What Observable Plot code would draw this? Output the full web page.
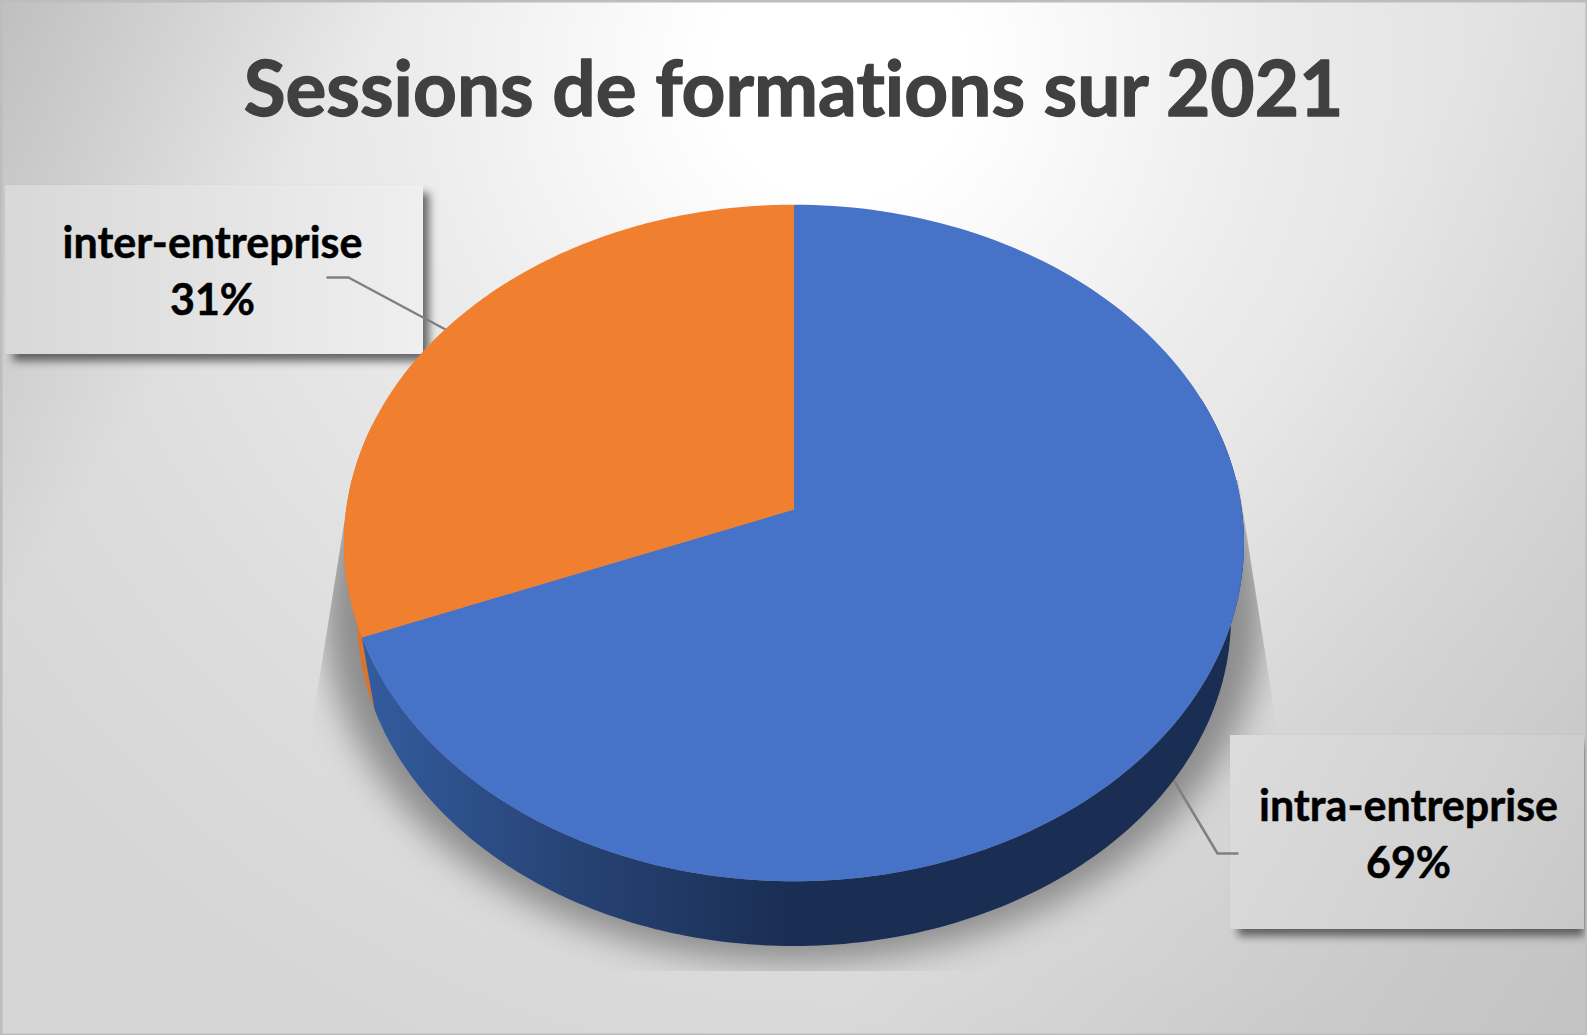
<!DOCTYPE html>
<html lang="fr">
<head>
<meta charset="utf-8">
<script src="https://cdn.jsdelivr.net/npm/d3@7"></script>
<script src="https://cdn.jsdelivr.net/npm/@observablehq/plot@0.6"></script>
<style>html,body{margin:0;padding:0;background:#ddd}svg{display:block}svg text{font-variant-ligatures:none;font-feature-settings:"liga" 0,"clig" 0}</style>
</head>
<body>
<div id="chart"></div>
<script>
// data
const titleText = "Sessions de formations sur 2021";
const categories = ["intra-entreprise", "inter-entreprise"];
const shares = [69, 31];
const sliceColors = ["#4673c8", "#f17f30"];

// layout
const W = 1587, H = 1035;
const pie = {cx: 793.5, apexY: 509, A: 335, B: 447.8, k: 0.099};
const base = {apexY: 584.5, scale: 0.971};
const boxes = [
  {x1: 1230, x2: 1584, y1: 735, y2: 929, fill: "url(#box2)", sx2: 1584, tx: 1408, ty: 831, leader: [[1165, 766], [1217, 853], [1237, 853]]},
  {x1: 5, x2: 423, y1: 185, y2: 354, fill: "url(#box1)", sx2: 429, tx: 212, ty: 268, leader: [[445, 329], [348, 277], [327, 277]]}
];

const rad = d => d * Math.PI / 180;
function rim(theta, apexY = pie.apexY, s = 1) {
  const t = rad(theta), den = 1 + pie.k * Math.cos(t);
  return {x: pie.cx + s * pie.B * Math.sin(t) / den, y: apexY - s * pie.A * Math.cos(t) / den};
}
const arcPts = (a, b, ay, s) => d3.range(0, 181).map(i => rim(a + (b - a) * i / 180, ay, s));

// slices built from the shares
let acc = 0;
const slices = categories.map((name, i) => {
  const start = acc * 3.6; acc += shares[i];
  return {name, share: shares[i], start, end: acc * 3.6, color: sliceColors[i]};
});
const faceRows = slices.flatMap(s => [
  {name: s.name, x: pie.cx, y: pie.apexY},
  ...arcPts(s.start, s.end).map(p => ({name: s.name, ...p}))
]);
const split = slices[0].end;
const wall = (name, a, b) => [
  ...arcPts(a, b).map(p => ({name, ...p})),
  ...arcPts(b, a, base.apexY, base.scale).map(p => ({name, ...p}))
];
const wallBlue = wall("blue", 70, split);
const wallOrange = wall("orange", split, 285);
const shadowRows = d3.range(0, 361, 2).map(t => rim(t, 574, base.scale * 1.075));

function defs() {
  const svg = d3.create("svg:defs");
  const grad = (id, attrs, stops, tag = "linearGradient") => {
    const g = svg.append("svg:" + tag).attr("id", id).attr("gradientUnits", "userSpaceOnUse");
    Object.entries(attrs).forEach(([k, v]) => g.attr(k, v));
    stops.forEach(([o, c, a]) => g.append("svg:stop").attr("offset", o).attr("stop-color", c).attr("stop-opacity", a ?? 1));
  };
  grad("bg", {cx: 840, cy: 70, r: 1060}, [[0, "#ffffff"], [0.12, "#ffffff"], [0.42, "#ebebeb"], [0.75, "#dddddd"], [1, "#d6d6d6"]], "radialGradient");
  grad("tint", {x1: 0, y1: 0, x2: W, y2: H}, [[0, "#000", 0.13], [0.18, "#000", 0], [0.66, "#000", 0], [1, "#000", 0.09]]);
  grad("box1", {x1: 5, x2: 423, y1: 0, y2: 0}, [[0, "#d8d8d8"], [0.6, "#e6e6e6"], [1, "#efefef"]]);
  grad("box2", {x1: 1230, x2: 1584, y1: 735, y2: 929}, [[0, "#dcdcdc"], [0.6, "#d2d2d2"], [1, "#c8c8c8"]]);
  grad("wallG", {x1: 360, x2: 800, y1: 0, y2: 0}, [[0, "#335c9f"], [0.5, "#264273"], [1, "#1a2d52"]]);
  svg.append("svg:clipPath").attr("id", "shadowClip").append("svg:polygon")
    .attr("points", "351,480 1238,480 1278,735 1278,971 312,971 312,725");
  return svg.node();
}
function clipped(index, scales, values, dims, ctx, next) {
  const g = next(index, scales, values, dims, ctx);
  const w = d3.create("svg:g").attr("clip-path", "url(#shadowClip)");
  w.node().append(g);
  return w.node();
}

const labels = slices.map((s, i) => ({
  text: `${s.name}\n${s.share}%`,
  x: boxes[i].tx, y: boxes[i].ty
}));

const chart = Plot.plot({
  width: W, height: H,
  margin: 0,
  x: {domain: [0, W], range: [0, W], axis: null},
  y: {domain: [0, H], range: [0, H], axis: null},
  marks: [
    defs,
    Plot.frame({fill: "url(#bg)", stroke: "none"}),
    Plot.frame({fill: "url(#tint)", stroke: "none"}),
    Plot.line(shadowRows, {x: "x", y: "y", fill: "#666666", fillOpacity: 0.68, stroke: "none", imageFilter: "blur(17px)", render: clipped}),
    Plot.rect(boxes, {x1: d => d.x1 + 8, x2: "sx2", y1: d => d.y1 + 8, y2: d => d.y2 + 7, fill: "#444", fillOpacity: 0.8, imageFilter: "blur(4.5px)"}),
    Plot.rect(boxes, {x1: "x1", x2: "x2", y1: "y1", y2: "y2", fill: "fill"}),
    ...boxes.map(b => Plot.line(b.leader, {x: d => d[0], y: d => d[1], stroke: "#808080", strokeWidth: 2.5, strokeLinejoin: "round"})),
    Plot.line(wallOrange, {x: "x", y: "y", fill: "#d9742a", stroke: "none"}),
    Plot.line(wallBlue, {x: "x", y: "y", fill: "url(#wallG)", stroke: "none"}),
    ...slices.map(s => Plot.line(faceRows.filter(r => r.name === s.name), {x: "x", y: "y", fill: s.color, stroke: "none"})),
    Plot.text([titleText], {x: () => W / 2 - 0.5, y: () => 91, text: d => d, fontFamily: "Lato", fontWeight: 700, fontSize: 76.5, fill: "#404040", stroke: "#404040", strokeWidth: 1.3}),
    Plot.text(labels, {x: "x", y: "y", text: "text", fontFamily: "Lato", fontWeight: 700, fontSize: 43, lineHeight: 1.33, fill: "#000", stroke: "#000", strokeWidth: 0.5}),
    Plot.frame({stroke: "#bdbdbd", strokeWidth: 4})
  ]
});
document.getElementById("chart").append(chart);
</script>
</body>
</html>
